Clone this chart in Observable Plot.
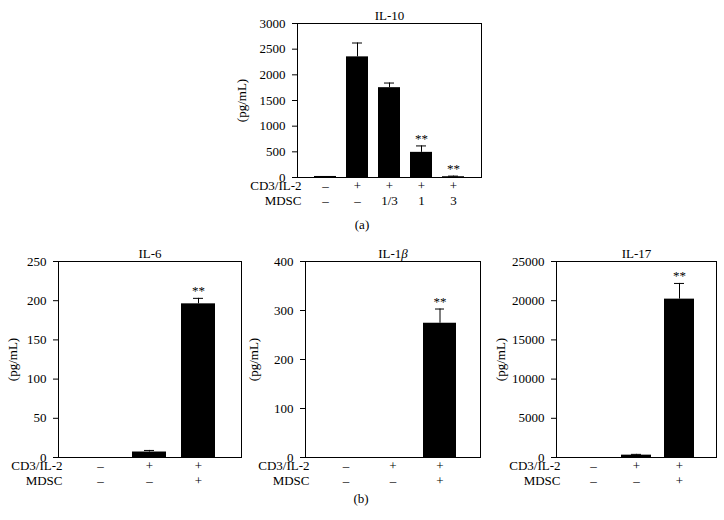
<!DOCTYPE html>
<html>
<head>
<meta charset="utf-8">
<script src="https://cdn.jsdelivr.net/npm/d3@7"></script>
<script src="https://cdn.jsdelivr.net/npm/@observablehq/plot@0.6"></script>
<style>
  html, body { margin: 0; padding: 0; background: white; }
  #wrap { position: relative; width: 724px; height: 520px; background: white; font-family: "Liberation Serif", serif; }
  .pnl { position: absolute; }
  .cap { position: absolute; font-size: 13px; transform: translate(-50%, -50%); }
</style>
</head>
<body>
<div id="wrap">
  <div class="pnl" id="pa" style="left:230px; top:0px;"></div>
  <div class="pnl" id="p6" style="left:0px; top:240px;"></div>
  <div class="pnl" id="p1b" style="left:245px; top:240px;"></div>
  <div class="pnl" id="p17" style="left:490px; top:240px;"></div>
  <div class="cap" style="left:362px; top:225px;">(a)</div>
  <div class="cap" style="left:361px; top:499px;">(b)</div>
</div>
<script>
// ---- data ----
const rowLabels = ["CD3/IL-2", "MDSC"];

const il10Groups = ["g1", "g2", "g3", "g4", "g5"];
const il10CD3 = ["–", "+", "+", "+", "+"];
const il10MDSC = ["–", "–", "1/3", "1", "3"];
const il10Mean = [20, 2350, 1750, 490, 15];
const il10Err = [0, 270, 90, 125, 12];
const il10Sig = ["", "", "", "**", "**"];
const il10Ticks = [0, 500, 1000, 1500, 2000, 2500, 3000];

const bGroups = ["g1", "g2", "g3"];
const bCD3 = ["–", "+", "+"];
const bMDSC = ["–", "–", "+"];
const bSig = ["", "", "**"];

const il6Mean = [0, 7, 196];
const il6Err = [0, 2, 7];
const il6Ticks = [0, 50, 100, 150, 200, 250];

const il1bMean = [0, 0, 274];
const il1bErr = [0, 0, 29];
const il1bTicks = [0, 100, 200, 300, 400];

const il17Mean = [0, 300, 20200];
const il17Err = [0, 100, 2000];
const il17Ticks = [0, 5000, 10000, 15000, 20000, 25000];

const FS = 13;

function panel(o) {
  const rows = o.groups.map((g, i) => ({
    g, cd3: o.cd3[i], mdsc: o.mdsc[i], mean: o.mean[i], err: o.err[i],
    top: o.mean[i] + o.err[i], sig: o.sig[i]
  }));
  const yMax = o.ticks[o.ticks.length - 1];
  return Plot.plot({
    width: o.width, height: o.height,
    marginLeft: o.ml, marginRight: o.mr, marginTop: o.mt, marginBottom: o.mb,
    style: { fontFamily: "Liberation Serif", fontSize: FS + "px", color: "black", background: "white", overflow: "visible" },
    x: { domain: o.groups, paddingInner: 0.3, paddingOuter: 0.5, axis: null },
    y: { domain: [0, yMax], axis: null },
    marks: [
      Plot.axisY({ ticks: o.ticks, tickSize: 5, tickPadding: 7, tickFormat: d => String(d), fontSize: FS,
        label: "(pg/mL)", labelAnchor: "center", labelOffset: o.labelOffset, labelArrow: "none",
        stroke: "black", fill: "black" }),
      Plot.barY(rows.filter(d => d.mean > 0), { x: "g", y: "mean", fill: "black" }),
      Plot.ruleX(rows.filter(d => d.err > 0), { x: "g", y1: "mean", y2: "top", stroke: "black", strokeWidth: 1 }),
      Plot.tickY(rows.filter(d => d.err > 0), { x: "g", y: "top", stroke: "black", insetLeft: o.capInset, insetRight: o.capInset }),
      Plot.text(rows.filter(d => d.sig), { x: "g", y: "top", text: "sig", dy: -3, lineAnchor: "bottom", fill: "black", fontSize: FS }),
      Plot.text(rows, { x: "g", frameAnchor: "bottom", text: "cd3", dy: 12.5, fill: "black", fontSize: FS }),
      Plot.text(rows, { x: "g", frameAnchor: "bottom", text: "mdsc", dy: 27, fill: "black", fontSize: FS }),
      Plot.text([rowLabels[0]], { frameAnchor: "bottom-left", text: d => d, dx: 4, dy: 12.5, textAnchor: "end", fill: "black", fontSize: FS }),
      Plot.text([rowLabels[1]], { frameAnchor: "bottom-left", text: d => d, dx: 4, dy: 27, textAnchor: "end", fill: "black", fontSize: FS }),
      Plot.text([o.title], { frameAnchor: "top", text: d => d, dy: -4, lineAnchor: "bottom", fill: "black", fontSize: FS }),
      Plot.frame({ stroke: "black" })
    ]
  });
}

document.getElementById("pa").append(panel({
  title: "IL-10", groups: il10Groups, cd3: il10CD3, mdsc: il10MDSC,
  mean: il10Mean, err: il10Err, sig: il10Sig, ticks: il10Ticks,
  width: 260, height: 235, ml: 67, mr: 9, mt: 23, mb: 58, labelOffset: 61, capInset: 6
}));
document.getElementById("p6").append(panel({
  title: "IL-6", groups: bGroups, cd3: bCD3, mdsc: bMDSC,
  mean: il6Mean, err: il6Err, sig: bSig, ticks: il6Ticks,
  width: 250, height: 260, ml: 58, mr: 9, mt: 21, mb: 43, labelOffset: 51, capInset: 12
}));
const p1b = panel({
  title: "IL-1β", groups: bGroups, cd3: bCD3, mdsc: bMDSC,
  mean: il1bMean, err: il1bErr, sig: bSig, ticks: il1bTicks,
  width: 245, height: 260, ml: 60, mr: 10, mt: 21, mb: 43, labelOffset: 57, capInset: 12
});
d3.select(p1b).selectAll("text").filter(function () { return this.textContent === "IL-1β"; })
  .each(function () {
    const t = d3.select(this);
    t.text("");
    t.append("tspan").text("IL-1");
    t.append("tspan").attr("font-style", "italic").text("β");
  });
document.getElementById("p1b").append(p1b);
document.getElementById("p17").append(panel({
  title: "IL-17", groups: bGroups, cd3: bCD3, mdsc: bMDSC,
  mean: il17Mean, err: il17Err, sig: bSig, ticks: il17Ticks,
  width: 234, height: 260, ml: 66, mr: 8, mt: 21, mb: 43, labelOffset: 61, capInset: 10
}));
</script>
</body>
</html>
